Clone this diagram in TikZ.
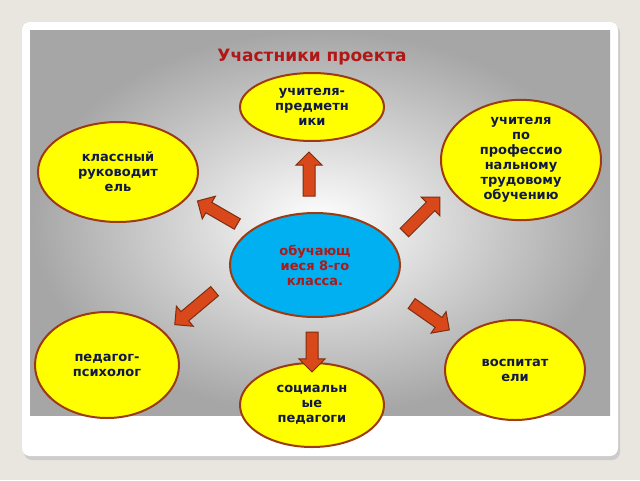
\documentclass[tikz,border=0pt]{standalone}
\usepackage{fontspec}
\setmainfont{DejaVu Sans}
\usetikzlibrary{shapes.arrows,shapes.geometric}
\definecolor{bg}{HTML}{E9E5DF}
\definecolor{ybody}{HTML}{FFFF00}
\definecolor{brd}{HTML}{9C3A12}
\definecolor{blu}{HTML}{00B0F0}
\definecolor{arr}{HTML}{D9481A}
\definecolor{tred}{HTML}{B01818}
\definecolor{tblue}{HTML}{10184A}
\tikzset{
  ell/.style={ellipse, draw=brd, line width=2pt, fill=ybody, align=center,
    font=\fontsize{13}{15}\selectfont\bfseries, text=tblue, inner sep=0pt},
  barrow/.style={single arrow, draw=brd!80!black, fill=arr, line width=1pt,
    minimum width=22pt, single arrow head indent=0pt,
    inner xsep=0pt, inner ysep=5.5pt, minimum height=44pt}
}
\begin{document}
\begin{tikzpicture}[x=1pt,y=-1pt]
\fill[bg] (0,0) rectangle (640,480);
\useasboundingbox (0,0) rectangle (640,480);
\fill[gray!40,rounded corners=8pt] (24,25) rectangle (620,460);
\fill[white,rounded corners=8pt] (22,22) rectangle (618,456);
\shade[inner color=white, outer color=gray!70] (30,30) rectangle (610,415);
\node[font=\fontsize{17}{19}\selectfont\bfseries, text=tred] (title) at (312,57) {Участники проекта};
\node[ell, minimum width=144pt, minimum height=68pt] (t) at (312,107) {учителя-\\предметн\\ики};
\node[ell, minimum width=160pt, minimum height=104pt] (rt) at (521,160) {учителя\\по\\профессио\\нальному\\трудовому\\обучению};
\node[ell, minimum width=160pt, minimum height=100pt] (lt) at (118,172) {классный\\руководит\\ель};
\node[ell, fill=blu, text=tred, minimum width=170pt, minimum height=104pt] (c) at (315,265) {обучающ\\иеся 8-го\\класса.};
\node[ell, minimum width=144pt, minimum height=106pt] (lb) at (107,365) {педагог-\\психолог};
\node[ell, minimum width=140pt, minimum height=100pt] (rb) at (515,370) {воспитат\\ели};
\node[ell, minimum width=144pt, minimum height=84pt] (b) at (312,405) {социальн\\ые\\педагоги};
\node[barrow, rotate=90] (a1) at (309,177) {};
\node[barrow, rotate=150, minimum height=46pt] (a2) at (220,214) {};
\node[barrow, rotate=45, minimum height=50pt] (a3) at (420,217) {};
\node[barrow, rotate=-140, minimum height=52pt] (a4) at (197,306) {};
\node[barrow, rotate=-35, minimum height=46pt] (a5) at (428,315) {};
\node[barrow, rotate=-90, minimum height=40pt] (a6) at (312,349) {};
\end{tikzpicture}
\end{document}
